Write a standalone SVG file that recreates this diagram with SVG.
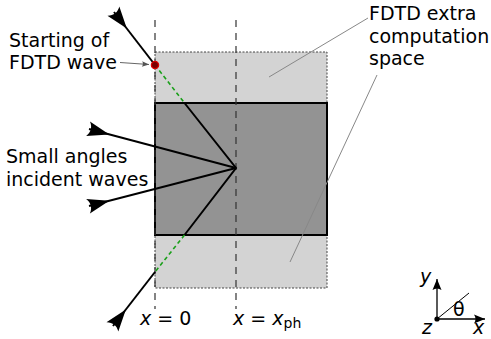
<svg xmlns="http://www.w3.org/2000/svg" width="491" height="339" viewBox="0 0 491 339">
<style>
text{font-family:"DejaVu Sans","Liberation Sans",sans-serif;font-size:19px;fill:#000}
.it{font-style:italic}
.ray{fill:none;stroke:#000;stroke-width:2}
.grn{fill:none;stroke:#1aa01a;stroke-width:1.6;stroke-dasharray:4,3}
.guide{fill:none;stroke:#333;stroke-width:1.2;stroke-dasharray:7,6}
.lead{fill:none;stroke:#888;stroke-width:1}
</style>
<defs>
<marker id="big" markerUnits="userSpaceOnUse" orient="auto" overflow="visible" markerWidth="1" markerHeight="1" refX="0" refY="0">
<path d="M-1,-7.5 L21,0 L-1,7.5 C2.8,2.8 2.8,-2.8 -1,-7.5z" fill="#000"/>
</marker>
<marker id="ax" markerUnits="userSpaceOnUse" orient="auto" overflow="visible" markerWidth="1" markerHeight="1" refX="0" refY="0">
<path d="M-11,-4.5 L0,0 L-11,4.5 C-9,1.6 -9,-1.6 -11,-4.5z" fill="#000"/>
</marker>
<marker id="sm" markerUnits="userSpaceOnUse" orient="auto" overflow="visible" markerWidth="1" markerHeight="1" refX="0" refY="0">
<path d="M-7,-2.8 L0,0 L-7,2.8 C-5.8,1 -5.8,-1 -7,-2.8z" fill="#555"/>
</marker>
</defs>

<g id="extra-space">
<rect x="155" y="52" width="172" height="236" fill="#d3d3d3" stroke="#444" stroke-width="1" stroke-dasharray="2,1.5"/>
</g>
<g id="domain">
<rect x="155" y="103" width="172" height="132" fill="#939393" stroke="#000" stroke-width="2"/>
</g>
<g id="guides">
<line class="guide" x1="155" y1="20" x2="155" y2="309"/>
<line class="guide" x1="236" y1="20" x2="236" y2="309"/>
</g>

<g id="connectors">
<path class="ray" d="M114,12 L155,65" marker-start="url(#big)"/>
<path class="grn" d="M155,65 L184.5,103"/>
<path class="ray" d="M184.5,103 L236,168 L184.5,235"/>
<path class="grn" d="M184.5,235 L155,272"/>
<path class="ray" d="M113,326 L155,272" marker-start="url(#big)"/>
<path class="ray" d="M89,129 L236,168" marker-start="url(#big)"/>
<path class="ray" d="M89,206 L236,168" marker-start="url(#big)"/>
<path d="M120,62.5 L149,64.5" fill="none" stroke="#555" stroke-width="0.9" marker-end="url(#sm)"/>
<path class="lead" d="M368,18 L269,77"/>
<path class="lead" d="M377,75 L290,262"/>
</g>

<g id="start-point">
<circle cx="155" cy="65" r="3.6" fill="#7a0000" stroke="#e00000" stroke-width="1.3"/>
</g>

<g id="label-start">
<text x="9" y="47">Starting of</text>
<text x="9" y="69">FDTD wave</text>
</g>
<g id="label-small">
<text x="6" y="163">Small angles</text>
<text x="6" y="186">incident waves</text>
</g>
<g id="label-extra">
<text x="369" y="20">FDTD extra</text>
<text x="369" y="43">computation</text>
<text x="369" y="65">space</text>
</g>
<g id="label-x0">
<text x="140" y="325"><tspan class="it">x</tspan> = 0</text>
</g>
<g id="label-xph">
<text x="233" y="325"><tspan class="it">x</tspan> = <tspan class="it">x</tspan><tspan font-size="14" dy="3">ph</tspan></text>
</g>

<g id="axes">
<line x1="437" y1="319" x2="437" y2="279" stroke="#000" stroke-width="1.3" marker-end="url(#ax)"/>
<line x1="437" y1="319" x2="485" y2="319" stroke="#000" stroke-width="1.3" marker-end="url(#ax)"/>
<line x1="437" y1="319" x2="469" y2="293" stroke="#000" stroke-width="1"/>
<circle cx="437" cy="319" r="2.6" fill="#000"/>
<text class="it" x="420" y="283" font-size="19">y</text>
<text class="it" x="422" y="334" font-size="19">z</text>
<text class="it" x="473" y="334" font-size="19">x</text>
<text x="453" y="316" font-size="19">θ</text>
</g>
</svg>
